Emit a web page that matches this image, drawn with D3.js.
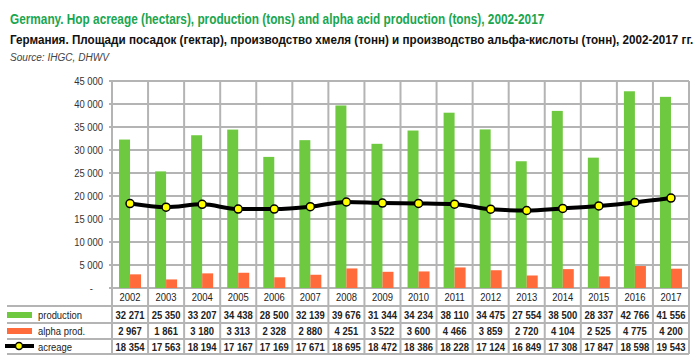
<!DOCTYPE html>
<html>
<head>
<meta charset="utf-8">
<script src="https://cdn.jsdelivr.net/npm/d3@7"></script>
<style>
  body { margin: 0; background: #fff; }
  text { font-family: "Liberation Sans", Arial, sans-serif; }
</style>
</head>
<body>
<div id="canvas"></div>
<script>
"use strict"

let years = ["2002","2003","2004","2005","2006","2007","2008","2009","2010","2011","2012","2013","2014","2015","2016","2017"];
let production = [32271,25350,33207,34438,28500,32139,39676,31344,34234,38110,34475,27554,38500,28337,42766,41556];
let alphaProd = [2967,1861,3180,3313,2328,2880,4251,3522,3600,4466,3859,2720,4104,2525,4775,4200];
let acreage = [18354,17563,18194,17167,17169,17671,18695,18472,18386,18228,17124,16849,17308,17847,18598,19543];
let yTicks = [0,5000,10000,15000,20000,25000,30000,35000,40000,45000];

let drawingWidth = 700;
let drawingHeight = 361;

let plotLeft = 112;
let plotRight = 689;
let plotTop = 81;
let plotBottom = 288;

let green = "#6fc940";
let orange = "#ff6b3b";
let gridColor = "#b4b4b4";

let drawing = d3.select("#canvas")
    .append("svg")
    .attr("width", drawingWidth)
    .attr("height", drawingHeight);

let x = d3.scaleBand()
    .domain(years)
    .range([plotLeft, plotRight]);

let y = d3.scaleLinear()
    .domain([0, 45000])
    .range([plotBottom, plotTop]);

// numbers like "32 271"
function spaced(v) {
    if (v === 0) return "-";
    return d3.format(",")(v).replace(/,/g, " ");
}

// squeeze text horizontally, the original uses a narrow font
function condense(sel, k) {
    sel.each(function() {
        let w = this.getComputedTextLength();
        d3.select(this)
            .attr("textLength", w * k)
            .attr("lengthAdjust", "spacingAndGlyphs");
    });
}

// title lines: scale the whole line so it spans a given width
function titleLine(tx, ty, w, size, weight, style, color, str) {
    let t = drawing.append("text")
        .attr("x", 0).attr("y", 0)
        .attr("font-size", size)
        .attr("font-weight", weight)
        .attr("font-style", style)
        .attr("fill", color)
        .text(str);
    let k = w / t.node().getComputedTextLength();
    t.attr("transform", "translate(" + tx + "," + ty + ") scale(" + k + ",1)");
    return t;
}

titleLine(10, 24, 535, 14, "bold", "normal", "#1aa64f",
    "Germany. Hop acreage (hectars), production (tons) and alpha acid production (tons), 2002-2017");
titleLine(10, 44, 684, 12.5, "bold", "normal", "#111",
    "Германия. Площади посадок (гектар), производство хмеля (тонн) и производство альфа-кислоты (тонн), 2002-2017 гг.");
titleLine(10, 61, 99, 11, "normal", "italic", "#444", "Source: IHGC, DHWV");

// horizontal grid
drawing.append("g")
    .selectAll("line")
    .data(yTicks)
    .join("line")
    .attr("x1", plotLeft - 3)
    .attr("x2", plotRight)
    .attr("y1", d => y(d))
    .attr("y2", d => y(d))
    .attr("stroke", gridColor)
    .attr("stroke-width", 2);

// vertical grid, down through the table
let bounds = years.map(d => x(d)).concat([plotRight]);
drawing.append("g")
    .selectAll("line")
    .data(bounds)
    .join("line")
    .attr("x1", d => d)
    .attr("x2", d => d)
    .attr("y1", plotTop)
    .attr("y2", 354)
    .attr("stroke", gridColor)
    .attr("stroke-width", 2);

// y labels
let yAxis = d3.axisLeft(y)
    .tickValues(yTicks)
    .tickSize(0)
    .tickPadding(0)
    .tickFormat(spaced);

drawing.append("g")
    .attr("transform", "translate(103,0)")
    .call(yAxis)
    .call(g => g.select(".domain").remove())
    .call(g => g.selectAll("text")
        .attr("font-size", 11.5)
        .attr("fill", "#333")
        .attr("dx", d => d === 0 ? -10 : 0)
        .style("font-family", "\"Liberation Sans\", Arial, sans-serif")
        .call(condense, 0.82));

// bars
let barW = 11;
drawing.append("g")
    .selectAll("rect")
    .data(production)
    .join("rect")
    .attr("x", (d, i) => x(years[i]) + x.bandwidth() / 2 - barW)
    .attr("y", d => y(d))
    .attr("width", barW)
    .attr("height", d => y(0) - y(d))
    .attr("fill", green);

drawing.append("g")
    .selectAll("rect")
    .data(alphaProd)
    .join("rect")
    .attr("x", (d, i) => x(years[i]) + x.bandwidth() / 2)
    .attr("y", d => y(d))
    .attr("width", barW)
    .attr("height", d => y(0) - y(d))
    .attr("fill", orange);

// acreage line
let line = d3.line()
    .x((d, i) => x(years[i]) + x.bandwidth() / 2)
    .y(d => y(d))
    .curve(d3.curveMonotoneX);

drawing.append("path")
    .datum(acreage)
    .attr("d", line)
    .attr("fill", "none")
    .attr("stroke", "black")
    .attr("stroke-width", 4);

drawing.append("g")
    .selectAll("circle")
    .data(acreage)
    .join("circle")
    .attr("cx", (d, i) => x(years[i]) + x.bandwidth() / 2)
    .attr("cy", d => y(d))
    .attr("r", 4)
    .attr("fill", "#ffff00")
    .attr("stroke", "black")
    .attr("stroke-width", 1.5);

// table
let rowLines = [306, 323, 339, 354];
drawing.append("g")
    .selectAll("line")
    .data(rowLines)
    .join("line")
    .attr("x1", 7)
    .attr("x2", plotRight)
    .attr("y1", d => d)
    .attr("y2", d => d)
    .attr("stroke", gridColor)
    .attr("stroke-width", 2);

drawing.append("g")
    .selectAll("text")
    .data(years)
    .join("text")
    .attr("x", d => x(d) + x.bandwidth() / 2)
    .attr("y", 301)
    .attr("text-anchor", "middle")
    .attr("font-size", 11.5)
    .attr("fill", "#222")
    .text(d => d)
    .call(condense, 0.82);

let rows = [
    {name: "production", values: production, y: 319},
    {name: "alpha prod.", values: alphaProd, y: 335},
    {name: "acreage", values: acreage, y: 351}
];

rows.forEach(function(row) {
    drawing.append("g")
        .selectAll("text")
        .data(row.values)
        .join("text")
        .attr("x", (d, i) => x(years[i]) + x.bandwidth() / 2)
        .attr("y", row.y)
        .attr("text-anchor", "middle")
        .attr("font-size", 11.5)
        .attr("font-weight", "bold")
        .attr("fill", "#222")
        .text(d => spaced(d))
        .call(condense, 0.82);

    drawing.append("text")
        .attr("x", 38)
        .attr("y", row.y)
        .attr("font-size", 11.5)
        .attr("fill", "#222")
        .text(row.name)
        .call(condense, 0.82);
});

// legend keys
drawing.append("rect")
    .attr("x", 7).attr("y", 312)
    .attr("width", 25).attr("height", 6)
    .attr("fill", green);

drawing.append("rect")
    .attr("x", 7).attr("y", 328)
    .attr("width", 25).attr("height", 6)
    .attr("fill", orange);

drawing.append("line")
    .attr("x1", 5).attr("x2", 34)
    .attr("y1", 346).attr("y2", 346)
    .attr("stroke", "black")
    .attr("stroke-width", 4);

drawing.append("circle")
    .attr("cx", 19).attr("cy", 346)
    .attr("r", 3.5)
    .attr("fill", "#ffff00")
    .attr("stroke", "black")
    .attr("stroke-width", 1.5);
</script>
</body>
</html>
